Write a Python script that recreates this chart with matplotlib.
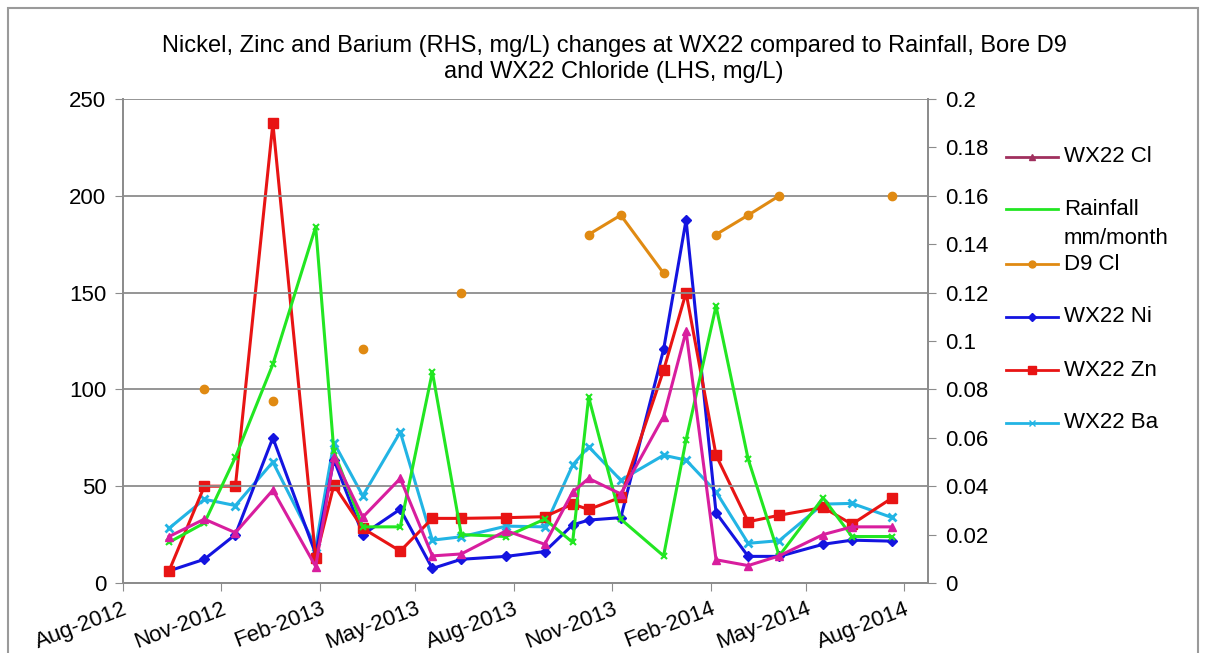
import matplotlib
matplotlib.use("Agg")
import matplotlib.pyplot as plt
from matplotlib.lines import Line2D
from matplotlib.patches import Rectangle
import numpy as np
import pandas as pd

plt.rcParams['font.family'] = ['Liberation Sans', 'DejaVu Sans']

# ---------------- data ----------------
dates = pd.to_datetime([
    "2012-09-13", "2012-10-16", "2012-11-14", "2012-12-19", "2013-01-28",
    "2013-02-14", "2013-03-13", "2013-04-17", "2013-05-17", "2013-06-13",
    "2013-07-25", "2013-08-30", "2013-09-25", "2013-10-10", "2013-11-09",
    "2013-12-19", "2014-01-09", "2014-02-06", "2014-03-08", "2014-04-06",
    "2014-05-17", "2014-06-13", "2014-07-20",
])
nan = np.nan
wx22_cl = [24, 33, 26, 48, 8.5, 65, 34, 54, 14, 15, 27, 20, 47, 54, 46,
           86, 130, 12, 9, 14, 25, 29, 29]
rainfall = [21, 31, 65, 113, 184, 68, 29, 29, 109, 25, 24, 33, 21, 96, 33,
            14, 74, 143, 64, 14, 44, 24, 24]
d9_cl = [nan, 100, nan, 94, nan, nan, 121, nan, nan, 150, nan, nan, nan, 180, 190,
         160, nan, 180, 190, 200, nan, nan, 200]
wx22_ni = [0.005, 0.0098, 0.020, 0.060, 0.012, 0.051, 0.020, 0.0305, 0.006, 0.0098,
           0.011, 0.013, 0.024, 0.026, 0.027, 0.0965, 0.150, 0.029, 0.011, 0.011,
           0.016, 0.0177, 0.0173]
wx22_zn = [0.005, 0.040, 0.040, 0.190, 0.0102, 0.0405, 0.0226, 0.0132, 0.0267, 0.0267,
           0.027, 0.0274, 0.0326, 0.0304, 0.0354, 0.0879, 0.120, 0.0528, 0.0253, 0.028,
           0.0312, 0.0243, 0.035]
wx22_ba = [0.0226, 0.0346, 0.032, 0.050, 0.015, 0.058, 0.036, 0.0624, 0.0177, 0.0191,
           0.0235, 0.0232, 0.0487, 0.0563, 0.0425, 0.0528, 0.0508, 0.0377, 0.0164, 0.0175,
           0.0326, 0.0329, 0.0271]

title = ("Nickel, Zinc and Barium (RHS, mg/L) changes at WX22 compared to Rainfall, Bore D9\n"
         "and WX22 Chloride (LHS, mg/L)")
legend_labels = ["WX22 Cl", "Rainfall\nmm/month", "D9 Cl", "WX22 Ni", "WX22 Zn", "WX22 Ba"]

# ---------------- styles ----------------
c_cl = "#D81E9E"
c_rain = "#22E622"
c_d9 = "#E08A12"
c_ni = "#1414E0"
c_zn = "#E81414"
c_ba = "#22B4E4"
grid_c = "#8C8C8C"
FS = 16

W, H = 1206, 653
fig = plt.figure(figsize=(W / 100, H / 100), dpi=100)
ax = fig.add_axes([123 / W, 1 - 583 / H, (928 - 123) / W, (583 - 99) / H])
ax2 = ax.twinx()

ax.plot(dates, rainfall, color=c_rain, lw=2.2, marker='x', ms=5, mew=1.5, zorder=3)
ax.plot(dates, wx22_cl, color=c_cl, lw=2.2, marker='^', ms=6, zorder=4)
ax.plot(dates, d9_cl, color=c_d9, lw=2.2, marker='o', ms=6, mec=c_d9, zorder=4)
ax2.plot(dates, wx22_ba, color=c_ba, lw=2.2, marker='x', ms=6, mew=2, zorder=3)
ax2.plot(dates, wx22_ni, color=c_ni, lw=2.2, marker='D', ms=5, zorder=4)
ax2.plot(dates, wx22_zn, color=c_zn, lw=2.2, marker='s', ms=7, zorder=5)

ax.set_zorder(ax2.get_zorder() + 1)
ax.patch.set_visible(False)

ax.set_ylim(0, 250)
ax.set_yticks(np.arange(0, 251, 50))
ax2.set_ylim(0, 0.2)
ax2.set_yticks(np.arange(0, 0.2001, 0.02))
ax2.set_yticklabels(["0"] + [("%.2f" % v).rstrip('0') for v in np.arange(0.02, 0.2001, 0.02)])

ax.set_xlim(pd.Timestamp("2012-08-01"), pd.Timestamp("2014-08-23"))
ticks = pd.date_range("2012-08-01", "2014-08-01", freq="3MS")
ax.set_xticks(ticks)
ax.set_xticklabels([t.strftime("%b-%Y") for t in ticks], rotation=21, ha='right',
                   va='top', rotation_mode='anchor', fontsize=FS)

ax.grid(axis='y', color=grid_c, lw=1.3)
ax.set_axisbelow(True)
for a in (ax, ax2):
    for s in a.spines.values():
        s.set_color(grid_c)
        s.set_linewidth(1.3)
    a.spines['top'].set_visible(False)
ax.tick_params(axis='y', labelsize=FS, length=6, color=grid_c, pad=6, direction='out')
ax.tick_params(axis='x', labelsize=FS, length=6, color=grid_c, pad=5)
ax2.tick_params(axis='y', labelsize=FS, length=6, color=grid_c, pad=6)

fig.text(614 / W, 1 - 59 / H, title, ha='center', va='center',
         fontsize=17, linespacing=1.25)

# legend (manual)
leg_handles = [
    dict(color="#A0305E", marker='^', ms=5),
    dict(color=c_rain, marker=None, ms=0),
    dict(color=c_d9, marker='o', ms=5),
    dict(color=c_ni, marker='D', ms=4),
    dict(color=c_zn, marker='s', ms=6),
    dict(color=c_ba, marker='x', ms=5),
]
leg_y = [157, 209, 264, 317, 370, 423]
for h, lab, yy in zip(leg_handles, legend_labels, leg_y):
    yf = 1 - yy / H
    fig.add_artist(Line2D([1006 / W, 1058 / W], [yf, yf], color=h['color'], lw=2))
    if h['marker']:
        fig.add_artist(Line2D([1032 / W], [yf], color=h['color'], marker=h['marker'],
                              ms=h['ms'], lw=0))
    if '\n' in lab:
        fig.text(1064 / W, yf + 10 / H, lab, ha='left', va='top', fontsize=FS, linespacing=1.5)
    else:
        fig.text(1064 / W, yf, lab, ha='left', va='center', fontsize=FS)

fig.add_artist(Rectangle((8 / W, -0.05), (1198 - 8) / W, (1 - 8 / H) + 0.05, fill=False,
                         edgecolor="#9A9A9A", lw=1.5, transform=fig.transFigure))

fig.savefig("out.png", dpi=100)
